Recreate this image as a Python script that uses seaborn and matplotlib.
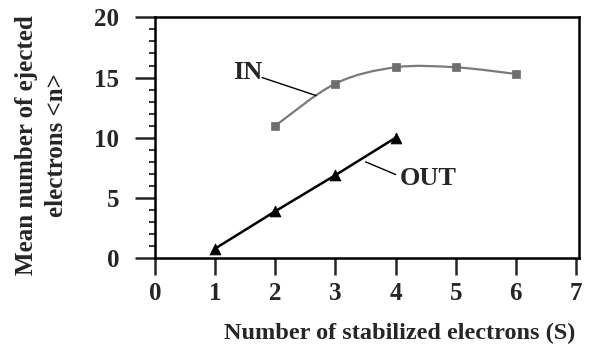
import numpy as np
import pandas as pd
import matplotlib
matplotlib.use("Agg")
import matplotlib.pyplot as plt
from matplotlib.path import Path
from matplotlib.patches import PathPatch
from matplotlib.ticker import MultipleLocator
import seaborn as sns

# ---- data ----
in_x = [2, 3, 4, 5, 6]
in_y = [11.0, 14.5, 15.85, 15.85, 15.3]
out_x = [1, 2, 3, 4]
out_y = [0.8, 3.9, 6.9, 10.0]
x_ticks = [0, 1, 2, 3, 4, 5, 6, 7]
y_ticks = [0, 5, 10, 15, 20]
x_label = "Number of stabilized electrons (S)"
y_label = "Mean number of ejected\nelectrons <n>"

sns.set_style("white")
plt.rcParams['font.family'] = ['Liberation Serif', 'DejaVu Serif']
plt.rcParams['font.weight'] = 'bold'

fig = plt.figure(figsize=(5.92, 3.47), dpi=100)
ax = fig.add_axes([0.262, 0.256, 0.716, 0.694])

df_in = pd.DataFrame({"S": in_x, "n": in_y})
df_out = pd.DataFrame({"S": out_x, "n": out_y})

# smooth curve through IN points (Catmull-Rom as cubic Bezier path)
pts = np.column_stack([in_x, in_y]).astype(float)
verts = [tuple(pts[0])]
codes = [Path.MOVETO]
n = len(pts)
for i in range(n - 1):
    p0 = pts[i - 1] if i > 0 else pts[i]
    p1 = pts[i]
    p2 = pts[i + 1]
    p3 = pts[i + 2] if i + 2 < n else pts[i + 1]
    c1 = p1 + (p2 - p0) / 6.0
    c2 = p2 - (p3 - p1) / 6.0
    verts += [tuple(c1), tuple(c2), tuple(p2)]
    codes += [Path.CURVE4] * 3
ax.add_patch(PathPatch(Path(verts, codes), facecolor='none', edgecolor='#7a7a7a', lw=1.6, zorder=2))

sns.scatterplot(data=df_in, x="S", y="n", marker="s", s=40, color="#6e6e6e",
                edgecolor="#6e6e6e", ax=ax, zorder=3)
sns.lineplot(data=df_out, x="S", y="n", color="black", lw=1.8, ax=ax, zorder=2)
sns.scatterplot(data=df_out, x="S", y="n", marker="^", s=60, color="black",
                edgecolor="black", ax=ax, zorder=3)

ax.set_xlim(0, 7.05)
ax.set_ylim(0, 20)
ax.set_xticks(x_ticks)
ax.set_yticks(y_ticks)
ax.yaxis.set_minor_locator(MultipleLocator(1))
for s in ax.spines.values():
    s.set_linewidth(1.8)
    s.set_color("black")
ax.tick_params(axis='x', which='major', direction='out', length=12, width=1.8,
               labelsize=18, pad=5, bottom=True)
ax.tick_params(axis='y', which='major', direction='out', length=14.4, width=1.8,
               labelsize=18, pad=11.5, left=True)
ax.tick_params(axis='y', which='minor', direction='out', length=4, width=1.3, left=True)
for lab in ax.get_xticklabels() + ax.get_yticklabels():
    lab.set_fontweight('bold')

ax.set_xlabel(x_label, fontsize=17.5, fontweight='bold')
ax.set_ylabel(y_label, fontsize=18, fontweight='bold', linespacing=1.4)
ax.xaxis.set_label_coords(0.578, -0.27)
ax.yaxis.set_label_coords(-0.205, 0.47)

# annotations
ax.text(1.54, 15.4, "IN", fontsize=19, fontweight='bold', ha='center', va='center')
ax.plot([1.78, 2.68], [15.0, 13.5], color='black', lw=1.0)
ax.text(4.55, 6.6, "OUT", fontsize=19, fontweight='bold', ha='center', va='center')
ax.plot([3.50, 4.0], [8.0, 6.95], color='black', lw=1.0)

fig.savefig("out.png", dpi=100)
